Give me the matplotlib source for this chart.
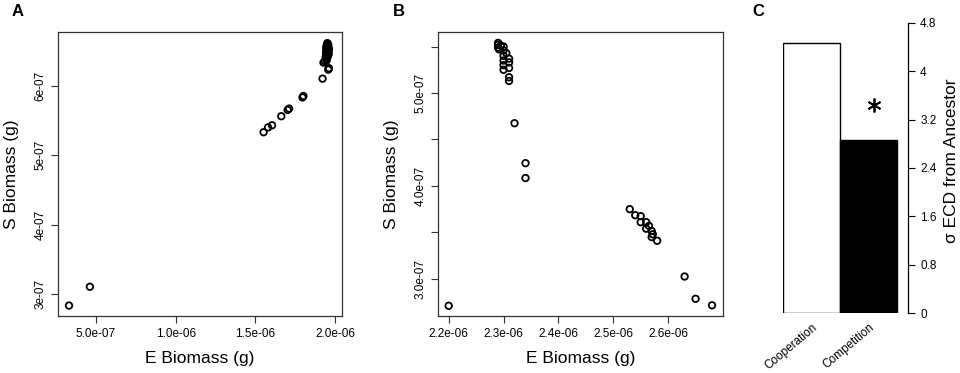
import matplotlib
matplotlib.use("Agg")
import matplotlib.pyplot as plt

plt.rcParams['font.family'] = ['Liberation Sans', 'DejaVu Sans']

# panel A: E vs S biomass (cooperation)
a_e = [3.31e-7, 4.62e-7, 1.552e-6, 1.580e-6, 1.605e-6, 1.663e-6, 1.703e-6, 1.712e-6,
       1.796e-6, 1.802e-6, 1.922e-6, 1.958e-6, 1.962e-6, 1.928e-6, 1.935e-6,
       1.945e-6, 1.950e-6, 1.955e-6, 1.948e-6, 1.957e-6, 1.944e-6, 1.953e-6, 1.960e-6,
       1.946e-6, 1.956e-6, 1.950e-6, 1.962e-6, 1.945e-6, 1.955e-6, 1.952e-6, 1.948e-6,
       1.958e-6, 1.950e-6, 1.955e-6, 1.952e-6, 1.960e-6, 1.942e-6, 1.947e-6]
a_s = [2.84e-7, 3.11e-7, 5.33e-7, 5.40e-7, 5.43e-7, 5.56e-7, 5.65e-7, 5.67e-7,
       5.83e-7, 5.85e-7, 6.10e-7, 6.23e-7, 6.25e-7, 6.33e-7, 6.35e-7,
       6.38e-7, 6.40e-7, 6.42e-7, 6.44e-7, 6.45e-7, 6.47e-7, 6.48e-7, 6.49e-7,
       6.50e-7, 6.51e-7, 6.52e-7, 6.53e-7, 6.54e-7, 6.55e-7, 6.56e-7, 6.57e-7,
       6.58e-7, 6.59e-7, 6.60e-7, 6.61e-7, 6.45e-7, 6.41e-7, 6.36e-7]

# panel B: E vs S biomass (competition)
b_e = [2.200e-6, 2.630e-6, 2.650e-6, 2.680e-6, 2.580e-6, 2.530e-6, 2.540e-6, 2.550e-6,
       2.550e-6, 2.560e-6, 2.560e-6, 2.565e-6, 2.570e-6, 2.570e-6, 2.572e-6,
       2.340e-6, 2.340e-6, 2.320e-6, 2.310e-6, 2.310e-6, 2.310e-6, 2.310e-6, 2.310e-6,
       2.300e-6, 2.300e-6, 2.300e-6, 2.300e-6, 2.300e-6, 2.300e-6,
       2.290e-6, 2.290e-6, 2.290e-6, 2.295e-6, 2.292e-6, 2.305e-6]
b_s = [2.71e-7, 3.025e-7, 2.785e-7, 2.715e-7, 3.41e-7, 3.75e-7, 3.685e-7, 3.675e-7,
       3.61e-7, 3.61e-7, 3.54e-7, 3.57e-7, 3.515e-7, 3.45e-7, 3.48e-7,
       4.245e-7, 4.085e-7, 4.675e-7, 5.13e-7, 5.17e-7, 5.27e-7, 5.33e-7, 5.37e-7,
       5.25e-7, 5.30e-7, 5.35e-7, 5.40e-7, 5.46e-7, 5.50e-7,
       5.54e-7, 5.52e-7, 5.49e-7, 5.51e-7, 5.47e-7, 5.43e-7]

# panel C: bars
groups = ['Cooperation', 'Competition']
sd_ecd = [4.47, 2.86]
bar_colors = ['white', 'black']
c_ticks = [0, 0.8, 1.6, 2.4, 3.2, 4, 4.8]
star_pos = (1.09, 3.44)   # significance mark over Competition

a_xticks = [5e-7, 1e-6, 1.5e-6, 2e-6]
a_xlabels = ['5.0e-07', '1.0e-06', '1.5e-06', '2.0e-06']
a_yticks = [3e-7, 4e-7, 5e-7, 6e-7]
a_ylabels = ['3e-07', '4e-07', '5e-07', '6e-07']
b_xticks = [2.2e-6, 2.3e-6, 2.4e-6, 2.5e-6, 2.6e-6]
b_xlabels = ['2.2e-06', '2.3e-06', '2.4e-06', '2.5e-06', '2.6e-06']
b_yticks = [3e-7, 3.5e-7, 4e-7, 4.5e-7, 5e-7, 5.5e-7]
b_ylabels = ['3.0e-07', '', '4.0e-07', '', '5.0e-07', '']

W, H = 960, 373
fig = plt.figure(figsize=(9.6, 3.73), dpi=100)

def box(l, t, r, b):
    return [l / W, 1 - b / H, (r - l) / W, (b - t) / H]

def scatter_panel(ax, xs, ys):
    ax.scatter(xs, ys, s=22, facecolors='none', edgecolors='black', linewidths=1.3)
    for sp in ax.spines.values():
        sp.set_linewidth(0.9)
        sp.set_color('#333333')
    ax.tick_params(direction='out', length=5, width=0.8, labelsize=8.5, color='#333333')
    for lab in ax.get_yticklabels():
        lab.set_rotation(90)
        lab.set_va('center')
    ax.set_xlabel('E Biomass (g)', fontsize=12.5, labelpad=8)
    ax.set_ylabel('S Biomass (g)', fontsize=12.5, labelpad=11)

ax1 = fig.add_axes(box(58, 32, 342, 316))
ax1.set_xlim(2.62e-7, 2.044e-6)
ax1.set_ylim(2.69e-7, 6.77e-7)
ax1.set_xticks(a_xticks, a_xlabels)
ax1.set_yticks(a_yticks, a_ylabels)
scatter_panel(ax1, a_e, a_s)

ax2 = fig.add_axes(box(438, 32, 723, 316))
ax2.set_xlim(2.1805e-6, 2.70e-6)
ax2.set_ylim(2.60e-7, 5.657e-7)
ax2.set_xticks(b_xticks, b_xlabels)
ax2.set_yticks(b_yticks, b_ylabels)
scatter_panel(ax2, b_e, b_s)

ax3 = fig.add_axes(box(783.3, 22.7, 908.3, 313.3))
ax3.bar(range(len(groups)), sd_ecd, width=1.0, color=bar_colors, edgecolor='black', linewidth=1.0)
ax3.set_xlim(-0.5, 1.693)
ax3.set_ylim(0, 4.8)
for side in ['top', 'left', 'bottom']:
    ax3.spines[side].set_visible(False)
ax3.spines['right'].set_linewidth(0.9)
ax3.yaxis.tick_right()
ax3.set_yticks(c_ticks, [f'{t:g}' for t in c_ticks])
ax3.tick_params(axis='y', direction='out', length=5, width=0.8, labelsize=8.5)
ax3.set_xticks(range(len(groups)))
ax3.set_xticklabels(groups, rotation=40, ha='right', rotation_mode='anchor', fontsize=8.5)
ax3.tick_params(axis='x', length=0, pad=6)
ax3.plot([star_pos[0]], [star_pos[1]], marker=(6, 2, 0), markersize=10,
         markeredgewidth=1.3, color='black', linestyle='none', clip_on=False)
fig.text(951 / W, 1 - 161 / H, 'σ ECD from Ancestor', rotation=90,
         ha='center', va='center', fontsize=12.5)

fig.text(12 / W, 1 - 12 / H, 'A', fontsize=12, fontweight='bold', va='center')
fig.text(393 / W, 1 - 12 / H, 'B', fontsize=12, fontweight='bold', va='center')
fig.text(752 / W, 1 - 12 / H, 'C', fontsize=12, fontweight='bold', va='center')

fig.savefig('out.png', dpi=100)
